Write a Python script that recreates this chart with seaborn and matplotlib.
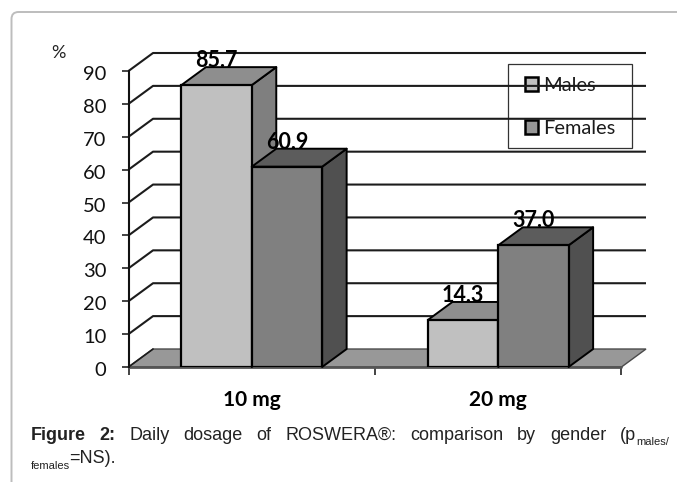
import pandas as pd
import matplotlib
matplotlib.use('Agg')
import matplotlib.pyplot as plt
import seaborn as sns
from matplotlib.patches import FancyBboxPatch, Patch, Polygon, Rectangle
from matplotlib.transforms import IdentityTransform, ScaledTranslation

doses = ["10 mg", "20 mg"]
groups = ["Males", "Females"]
males = [85.7, 14.3]
females = [60.9, 37.0]
y_ticks = [0, 10, 20, 30, 40, 50, 60, 70, 80, 90]

W, H = 677, 482
DX, DY = 0.0995, 5.47  # fake 3D depth in data units

front_colors = {"Males": "#c0c0c0", "Females": "#808080"}
top_colors = {"Males": "#8e8e8e", "Females": "#5c5c5c"}
side_colors = {"Males": "#7f7f7f", "Females": "#505050"}
label_zorder = {"Males": 2.5, "Females": 3.8}

sns.set_theme(style="white")
plt.rcParams['font.family'] = ['Lato', 'DejaVu Sans']

df = pd.DataFrame({
    "dose": doses * 2,
    "group": [groups[0]] * 2 + [groups[1]] * 2,
    "value": males + females,
})

fig = plt.figure(figsize=(W / 100, H / 100), dpi=100)
ax = fig.add_axes([128.5 / W, (H - 367) / H, 517.5 / W, 314 / H])
ax.patch.set_alpha(0)

sns.barplot(data=df, x="dose", y="value", hue="group", order=doses, hue_order=groups,
            palette=front_colors, edgecolor="black", linewidth=1.6, saturation=1,
            width=0.571, gap=0, legend=False, ax=ax)
ax.set_xlim(-0.5, 1.5 + DX)
ax.set_ylim(0, 90 + DY)
ax.set_xlabel("")
ax.set_ylabel("")

# floor
ax.add_patch(Polygon([(-0.5, 0), (1.5, 0), (1.5 + DX, DY), (-0.5 + DX, DY)],
                     facecolor="#989898", edgecolor="#4a4a4a", linewidth=1.0,
                     zorder=1.5, clip_on=False))
ax.plot([-0.5, 1.5], [0, 0], color="#555555", lw=2, zorder=1.6, clip_on=False)

# back wall lines
for v in y_ticks[1:]:
    ax.plot([-0.5, -0.5 + DX, 1.5 + DX], [v, v + DY, v + DY], color="#1c1c1c",
            lw=1.5, zorder=2, clip_on=False, solid_capstyle="butt")
ax.plot([-0.5, -0.5 + DX], [0, DY], color="#1c1c1c", lw=1.2, zorder=2, clip_on=False)

# depth faces for every bar, taken from the drawn bars
for i, (group, container) in enumerate(zip(groups, ax.containers)):
    base = 3 + i
    for bar in container:
        x0, w, h = bar.get_x(), bar.get_width(), bar.get_height()
        x1 = x0 + w
        bar.set_zorder(base + 0.5)
        ax.add_patch(Polygon([(x1, 0), (x1 + DX, DY), (x1 + DX, h + DY), (x1, h)],
                             facecolor=side_colors[group], edgecolor="black", linewidth=1.4,
                             zorder=base, clip_on=False, joinstyle="round"))
        ax.add_patch(Polygon([(x0, h), (x1, h), (x1 + DX, h + DY), (x0 + DX, h + DY)],
                             facecolor=top_colors[group], edgecolor="black", linewidth=1.4,
                             zorder=base + 0.1, clip_on=False, joinstyle="round"))
    ax.bar_label(container, fmt="%.1f", padding=10, fontsize=15.5, fontweight="bold",
                 color="black", zorder=label_zorder[group], clip_on=False)

sns.despine(ax=ax, top=True, right=True, bottom=True)
ax.spines["left"].set_bounds(0, 90)
ax.spines["left"].set_color("#111111")
ax.spines["left"].set_linewidth(1.5)
ax.spines["left"].set_zorder(2.2)

ax.set_yticks(y_ticks)
ax.tick_params(axis="y", left=True, length=5, width=1.1, color="#111111",
               labelsize=14.5, labelcolor="#111111", pad=11)
# numbers sit about 2 px lower than the ticks in the original
for lab in ax.get_yticklabels():
    lab.set_transform(lab.get_transform() + ScaledTranslation(0, -2 / 100, fig.dpi_scale_trans))
ax.set_xticks([0, 1], doses)
ax.tick_params(axis="x", bottom=False, labelsize=15, pad=10.5)
for lab in ax.get_xticklabels():
    lab.set_fontweight("bold")
    lab.set_color("black")
ax.set_xticks([-0.5, 0.5, 1.5], minor=True)
ax.tick_params(axis="x", which="minor", bottom=True, length=5.5, width=1.1, color="#111111")

# legend box and entries sit under the wall lines, as in the original
ax.add_patch(Rectangle((507.7 / W, 1 - 148 / H), 124 / W, 84 / H, transform=fig.transFigure,
                       facecolor="white", edgecolor="#333333", linewidth=0.9,
                       zorder=0.9, clip_on=False))
handles = [Patch(facecolor="#c0c0c0", edgecolor="black", linewidth=1.8, label="Males"),
           Patch(facecolor="#969696", edgecolor="black", linewidth=1.8, label="Females")]
leg = ax.legend(handles=handles, loc="upper left",
                bbox_to_anchor=(525 / W, 1 - 77 / H), bbox_transform=fig.transFigure,
                frameon=False, fontsize=14.4, handlelength=0.65, handleheight=0.65,
                handletextpad=0.25, labelspacing=1.3, borderpad=0, borderaxespad=0,
                labelcolor="#1a1a1a")
leg.set_zorder(1)

fig.text(58 / W, 1 - 53 / H, "%", fontsize=13, ha="center", va="center", color="#222222")

# page frame, runs off the right and bottom edges
fig.add_artist(FancyBboxPatch((11.5, -40), 740, H - 12 + 40, boxstyle="round,pad=0,rounding_size=7",
                              facecolor="none", edgecolor="#bdbdbd", linewidth=1.4,
                              transform=IdentityTransform()))

# caption, justified by hand between the two margins
CAP_FONT = ['Liberation Sans', 'DejaVu Sans']
CAP_SIZE = 13
SUB_SIZE = 8
renderer = fig.canvas.get_renderer()
line = [("Figure", "bold"), ("2:", "bold"), ("Daily", "normal"), ("dosage", "normal"),
        ("of", "normal"), ("ROSWERA®:", "normal"), ("comparison", "normal"),
        ("by", "normal"), ("gender", "normal"), ("(p", "normal")]
left, right, base_y = 31, 669, 1 - 440 / H
items = [fig.text(0, base_y, w, fontsize=CAP_SIZE, fontweight=b, family=CAP_FONT, color="#222222", va="baseline")
         for w, b in line]
sub = fig.text(0, base_y - 5 / H, "males/", fontsize=SUB_SIZE, family=CAP_FONT, color="#222222", va="baseline")
widths = [t.get_window_extent(renderer).width for t in items]
sub_w = sub.get_window_extent(renderer).width
gap = (right - left - sum(widths) - sub_w) / (len(items) - 1)
x = left
for t, w in zip(items, widths):
    t.set_x(x / W)
    x += w + gap
sub.set_x((x - gap) / W)

fig.text(31 / W, 1 - 469 / H, "females", fontsize=SUB_SIZE, family=CAP_FONT, color="#222222", va="baseline")
fig.text(69.5 / W, 1 - 463 / H, "=NS).", fontsize=CAP_SIZE, family=CAP_FONT, color="#222222", va="baseline")

fig.savefig("out.png", dpi=100)
